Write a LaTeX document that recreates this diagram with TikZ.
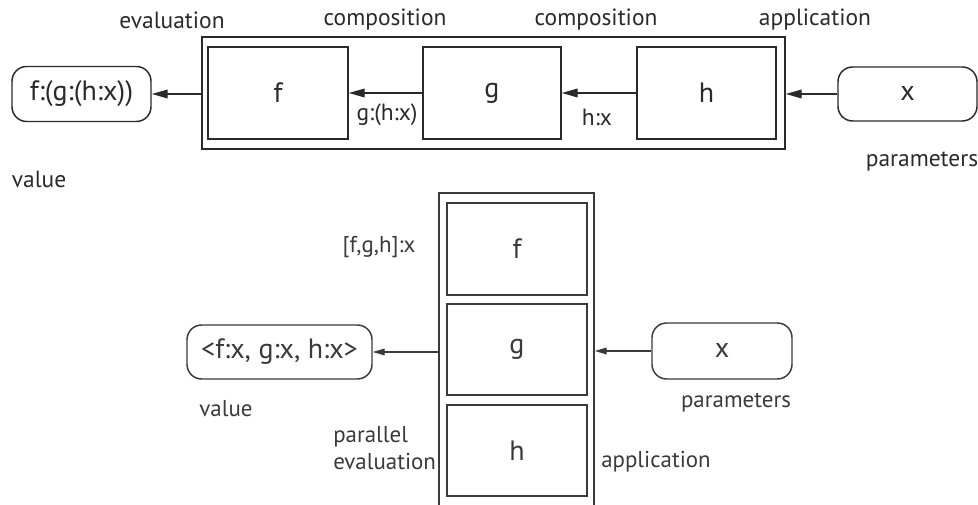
\documentclass[tikz,border=0pt]{standalone}
\usepackage{fontspec}
\setmainfont{PT Sans}
\usetikzlibrary{arrows.meta}
\definecolor{ink}{HTML}{2A2A2A}
\definecolor{inkB}{HTML}{3A3A3A}
\newcommand{\lblfont}{\fontsize{17.6}{20}\selectfont}
\newcommand{\bigfont}{\fontsize{21}{25}\selectfont}
\newcommand{\lblBfont}{\fontsize{17.2}{20.5}\selectfont}
\newcommand{\bigBfont}{\fontsize{21}{25}\selectfont}
\tikzset{
  px/.style={x=0.75pt,y=-0.75pt},
  box/.style={draw=ink,line width=1.1pt,inner sep=0pt,font=\bigfont},
  rbox/.style={draw=ink,line width=1.1pt,rounded corners=11pt,inner sep=0pt,font=\bigfont},
  frame/.style={draw=ink,line width=1.1pt,inner sep=0pt},
  arr/.style={draw=ink,line width=1.1pt,-{Triangle[length=12pt,width=6.5pt]}},
  lbl/.style={inner sep=0pt,text=ink,font=\lblfont},
  boxB/.style={draw=inkB,line width=1.1pt,inner sep=0pt,font=\bigBfont,text=inkB},
  rboxB/.style={draw=inkB,line width=1.1pt,rounded corners=11pt,inner sep=0pt,font=\bigBfont,text=inkB},
  frameB/.style={draw=inkB,line width=1.1pt,inner sep=0pt},
  arrB/.style={draw=inkB,line width=1.1pt,-{Triangle[length=9pt,width=5pt]}},
  lblB/.style={inner sep=0pt,text=inkB,font=\lblBfont},
}
\begin{document}
\begin{tikzpicture}[px]
\useasboundingbox (0,0) rectangle (978,505);
% ---------- top diagram ----------
\node[frame,minimum width=583*0.75pt,minimum height=112*0.75pt] (frameT) at (493.5,93) {};
\node[box,minimum width=140*0.75pt,minimum height=92*0.75pt,text=ink] (fT) at (278,93) {f};
\node[box,minimum width=138*0.75pt,minimum height=92*0.75pt,text=ink] (gT) at (492,93) {g};
\node[box,minimum width=139*0.75pt,minimum height=92*0.75pt,text=ink] (hT) at (706.5,93) {h};
\node[rbox,minimum width=139*0.75pt,minimum height=55*0.75pt,text=ink] (valT) at (81.5,94) {f:(g:(h:x))};
\node[rbox,minimum width=139*0.75pt,minimum height=54*0.75pt,text=ink] (xT) at (907.5,94) {x};
\draw[arr] (valT.east -| frameT.west) -- (valT.east);
\draw[arr] (gT.west) -- (fT.east);
\draw[arr] (hT.west) -- (gT.east);
\draw[arr] (xT.west) -- (xT.west -| frameT.east);
\node[lbl] (lEval) at (172,20) {evaluation};
\node[lbl] (lComp1) at (385,20) {composition};
\node[lbl] (lComp2) at (596,20) {composition};
\node[lbl] (lAppl) at (815,20) {application};
\node[lbl] (lGH) at (387,115) {g:(h:x)};
\node[lbl] (lH) at (597,117) {h:x};
\node[lbl] (lParT) at (922,162) {parameters};
\node[lbl] (lValT) at (39,179) {value};
% ---------- bottom diagram ----------
\node[frameB,minimum width=155*0.75pt,minimum height=330*0.75pt] (frameBot) at (516.5,358) {};
\node[boxB,minimum width=140*0.75pt,minimum height=92*0.75pt] (fB) at (517,249) {f};
\node[boxB,minimum width=140*0.75pt,minimum height=91*0.75pt] (gB) at (517,349.5) {g};
\node[boxB,minimum width=140*0.75pt,minimum height=91*0.75pt] (hB) at (517,450.5) {h};
\node[rboxB,minimum width=185*0.75pt,minimum height=54*0.75pt] (valB) at (279.5,352) {<f:x, g:x, h:x>};
\node[rboxB,minimum width=140*0.75pt,minimum height=56*0.75pt] (xB) at (722,351) {x};
\draw[arrB] (valB.east -| frameBot.west) -- (valB.east);
\draw[arrB] (xB.west) -- (xB.west -| frameBot.east);
\node[lblB] (lFGH) at (379,247) {[f,g,h]:x};
\node[lblB] (lValB) at (226,409) {value};
\node[lblB,anchor=west,align=left] (lPar) at (333,448) {parallel\\evaluation};
\node[lblB] (lParB) at (736,403) {parameters};
\node[lblB] (lApplB) at (656,462) {application};
\end{tikzpicture}
\end{document}
